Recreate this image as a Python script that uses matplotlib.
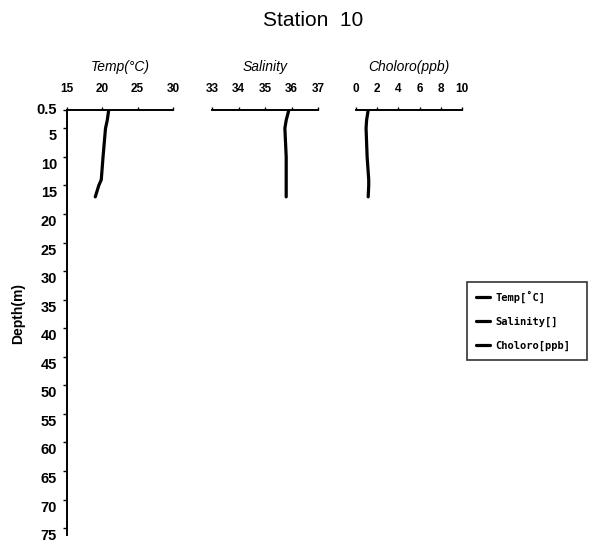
import matplotlib
matplotlib.use("Agg")
import matplotlib.pyplot as plt
import matplotlib.transforms as mtransforms
import numpy as np

plt.rcParams['font.family'] = ['Liberation Sans', 'DejaVu Sans']

# Data
depth = [0.5, 3, 5, 10, 14, 15, 17]
temp = [20.9, 20.7, 20.45, 20.1, 19.85, 19.5, 19.0]
salinity = [35.9, 35.8, 35.75, 35.8, 35.8, 35.8, 35.8]
chloro = [1.15, 1.0, 0.95, 1.05, 1.2, 1.2, 1.15]

depth_ticks = [0.5] + list(range(5, 80, 5))
depth_ticklabels = ['0.5'] + [str(v) for v in range(5, 80, 5)]
temp_ticks = [15, 20, 25, 30]
sal_ticks = [33, 34, 35, 36, 37]
chl_ticks = [0, 2, 4, 6, 8, 10]

# the original chart compresses the 0.5-5 m interval
K = 0.712

def fwd(d):
    d = np.asarray(d, dtype=float)
    return np.where(d < 5, 5 - (5 - d) * K, d)

def inv(p):
    p = np.asarray(p, dtype=float)
    return np.where(p < 5, 5 - (5 - p) / K, p)

W, H = 593, 547
fig = plt.figure(figsize=(W / 100, H / 100), dpi=100)

def px_axes(x0, x1, y0, y1):
    return fig.add_axes([x0 / W, 1 - y1 / H, (x1 - x0) / W, (y1 - y0) / H])

top, bottom = 110, 535
ax_t = px_axes(67, 173, top, bottom)
ax_s = px_axes(212, 318, top, bottom)
ax_c = px_axes(356, 462, top, bottom)

specs = [
    (ax_t, temp, (15, 30), temp_ticks, 'Temp(\u00b0C)', 'Temp[\u02daC]'),
    (ax_s, salinity, (33, 37), sal_ticks, 'Salinity', 'Salinity[]'),
    (ax_c, chloro, (0, 10), chl_ticks, 'Choloro(ppb)', 'Choloro[ppb]'),
]

handles = []
for i, (ax, vals, lim, ticks, title, leg) in enumerate(specs):
    ax.set_yscale('function', functions=(fwd, inv))
    ln, = ax.plot(vals, depth, color='black', lw=2.3, solid_capstyle='round', label=leg)
    handles.append(ln)
    ax.set_xlim(*lim)
    ax.set_ylim(76.2, 0.5)
    ax.set_xticks(ticks)
    ax.xaxis.tick_top()
    ax.tick_params(axis='x', direction='out', length=2.5, width=1, pad=8,
                   labelsize=8.5)
    for lab in ax.get_xticklabels():
        lab.set_fontweight('bold')
    ax.set_xlabel(title, fontstyle='italic', fontsize=10, labelpad=9)
    ax.xaxis.set_label_position('top')
    ax.spines['right'].set_visible(False)
    ax.spines['bottom'].set_visible(False)
    ax.spines['top'].set_linewidth(1.4)
    ax.patch.set_alpha(0)
    ax.yaxis.set_minor_locator(matplotlib.ticker.NullLocator())
    if i == 0:
        ax.set_yticks(depth_ticks)
        ax.tick_params(axis='y', direction='out', length=3, width=1, labelleft=False)
        ax.spines['left'].set_linewidth(1.4)
        # labels sit slightly below their tick marks in the original
        for j, (v, s) in enumerate(zip(depth_ticks, depth_ticklabels)):
            dy = 0 if j == 0 else -8 / 100
            tr = (mtransforms.blended_transform_factory(ax.transAxes, ax.transData)
                  + mtransforms.ScaledTranslation(-10 / 100, dy, fig.dpi_scale_trans))
            ax.text(0, v, s, transform=tr, ha='right', va='center',
                    fontsize=10.5, fontweight='bold', clip_on=False)
    else:
        ax.spines['left'].set_visible(False)
        ax.set_yticks([])

fig.text(18 / W, 1 - 314 / H, 'Depth(m)', rotation=90, ha='center', va='center',
         fontsize=10, fontweight='bold')
fig.text(313 / W, 1 - 21 / H, 'Station  10', ha='center', va='center', fontsize=15)

x0, x1, y0 = 467, 587, 282
leg = fig.legend(handles=handles, loc='upper left',
                 bbox_to_anchor=(x0 / W, 1 - y0 / H - 0.0, (x1 - x0) / W, 0.0),
                 mode='expand',
                 prop={'family': 'DejaVu Sans Mono', 'size': 7.5, 'weight': 'bold'},
                 frameon=True, fancybox=False, edgecolor='black',
                 handlelength=1.4, handletextpad=0.5, labelspacing=1.3,
                 borderpad=0.85, borderaxespad=0)
leg.get_frame().set_linewidth(1.2)

fig.savefig('out.png', dpi=100, facecolor='white')
